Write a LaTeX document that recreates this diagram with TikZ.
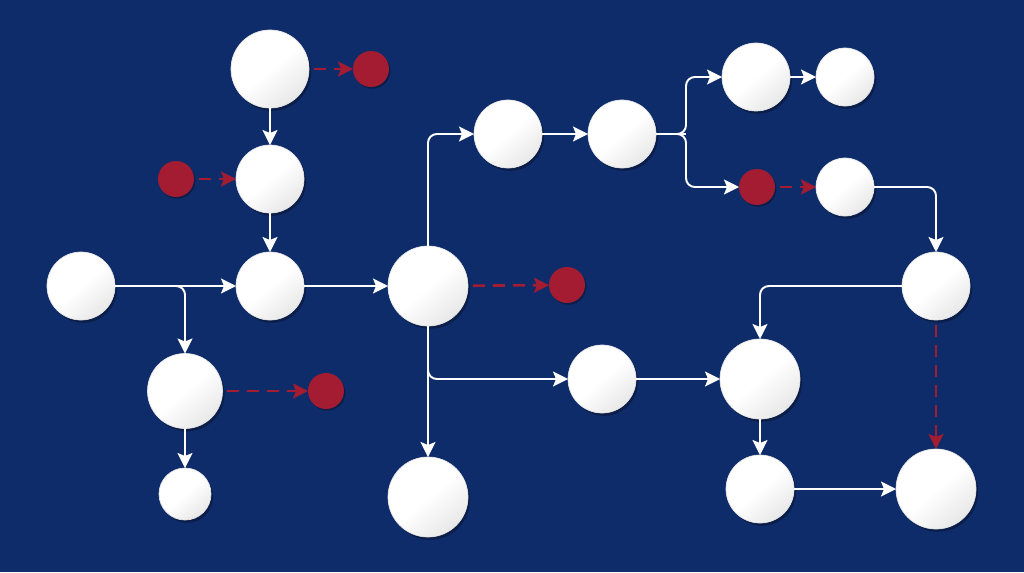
\documentclass[tikz,border=0pt]{standalone}
\usetikzlibrary{arrows.meta,shadows,calc}
\definecolor{bgnavy}{RGB}{15,44,106}
\definecolor{nodered}{RGB}{163,28,50}
\tikzset{
  wnode/.style={circle, inner sep=0pt, outer sep=0pt, draw=white!90!black, line width=0.4pt,
    top color=white, bottom color=black!9, middle color=white, shading angle=40,
    drop shadow={shadow xshift=1.2pt, shadow yshift=-1.6pt, opacity=0.3, fill=black}},
  rnode/.style={circle, inner sep=0pt, outer sep=0pt, fill=nodered, minimum size=0.72cm,
    drop shadow={shadow xshift=0.8pt, shadow yshift=-1pt, opacity=0.3, fill=black}},
  sz80/.style={minimum size=1.60cm},
  sz78/.style={minimum size=1.56cm},
  sz75/.style={minimum size=1.50cm},
  sz68/.style={minimum size=1.36cm},
  sz58/.style={minimum size=1.16cm},
  sz52/.style={minimum size=1.04cm},
  flow/.style={draw=white, line width=1.1pt, rounded corners=5pt,
    -{Stealth[length=0.3cm, width=0.3cm, inset=0.06cm]}},
  plain/.style={draw=white, line width=1.1pt, rounded corners=5pt},
  dflow/.style={draw=nodered, line width=1.5pt, dash pattern=on 0.24cm off 0.16cm,
    shorten <=0.1cm, -{Stealth[length=0.3cm, width=0.3cm, inset=0.06cm]}}
}
\begin{document}
\begin{tikzpicture}[x=0.02cm, y=-0.02cm]
\fill[bgnavy] (0,0) rectangle (1024,572);
\useasboundingbox (0,0) rectangle (1024,572);

% white nodes
\node[wnode, sz78] (A) at (270,69) {};
\node[wnode, sz68] (B) at (270,179) {};
\node[wnode, sz68] (C) at (81,286) {};
\node[wnode, sz68] (D) at (270,286) {};
\node[wnode, sz75] (E) at (185,391) {};
\node[wnode, sz52] (F) at (185,494) {};
\node[wnode, sz80] (G) at (428,286) {};
\node[wnode, sz68] (H) at (508,134) {};
\node[wnode, sz68] (I) at (622,134) {};
\node[wnode, sz68] (J) at (756,77) {};
\node[wnode, sz58] (K) at (845,77) {};
\node[wnode, sz58] (L) at (845,187) {};
\node[wnode, sz68] (M) at (936,286) {};
\node[wnode, sz68] (N) at (602,379) {};
\node[wnode, sz80] (O) at (760,379) {};
\node[wnode, sz80] (P) at (428,497) {};
\node[wnode, sz68] (Q) at (760,489) {};
\node[wnode, sz80] (R) at (936,489) {};

% red nodes
\node[rnode] (r1) at (371,69) {};
\node[rnode] (r2) at (176,179) {};
\node[rnode] (r3) at (567,285) {};
\node[rnode] (r4) at (326,391) {};
\node[rnode] (r5) at (757,187) {};

% junction coordinates
\coordinate (jI) at (686,134);

% white connectors
\draw[flow] (A) -- (B);
\draw[flow] (B) -- (D);
\draw[flow] (C) -- (D);
\draw[flow] (C.east) -| (E.north);
\draw[flow] (E) -- (F);
\draw[flow] (D) -- (G);
\draw[flow] (G.north) |- (H.west);
\draw[flow] (G.south) |- (N.west);
\draw[flow] (G) -- (P);
\draw[flow] (H) -- (I);
\draw[plain] (I.east) -- (jI);
\draw[flow] (I.east) -- (jI) |- (J.west);
\draw[flow] (I.east) -- (jI) |- (r5.west);
\draw[flow] (J) -- (K);
\draw[flow] (L.east) -| (M.north);
\draw[flow] (M.west) -| (O.north);
\draw[flow] (N) -- (O);
\draw[flow] (O) -- (Q);
\draw[flow] (Q) -- (R);

% red dashed connectors
\draw[dflow] (A) -- (r1);
\draw[dflow] (r2) -- (B);
\draw[dflow] (G) -- (r3);
\draw[dflow] (E) -- (r4);
\draw[dflow] (r5) -- (L);
\draw[dflow] (M) -- (R);
\end{tikzpicture}
\end{document}
